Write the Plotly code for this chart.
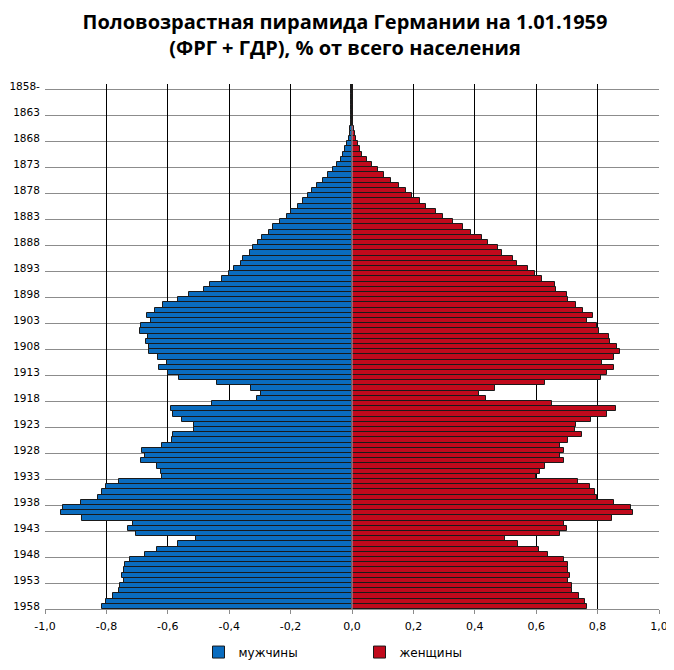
import plotly.graph_objects as go

# Data: share of total population (%), by birth year, Germany (FRG + GDR) 1.01.1959
years = list(range(1858, 1959))

men = [0.002, 0.002, 0.002, 0.002, 0.002, 0.002, 0.002, 0.003, 0.006, 0.008,
       0.011, 0.016, 0.023, 0.028, 0.037, 0.048, 0.062, 0.078, 0.095, 0.114,
       0.130, 0.143, 0.160, 0.176, 0.198, 0.212, 0.235, 0.258, 0.271, 0.293,
       0.307, 0.323, 0.333, 0.355, 0.362, 0.385, 0.401, 0.424, 0.463, 0.483,
       0.530, 0.567, 0.616, 0.642, 0.668, 0.655, 0.688, 0.691, 0.665, 0.672,
       0.662, 0.662, 0.633, 0.603, 0.629, 0.600, 0.564, 0.439, 0.329, 0.297,
       0.310, 0.457, 0.589, 0.584, 0.554, 0.515, 0.515, 0.583, 0.586, 0.618,
       0.684, 0.675, 0.687, 0.635, 0.623, 0.618, 0.760, 0.801, 0.814, 0.827,
       0.884, 0.942, 0.949, 0.879, 0.714, 0.729, 0.704, 0.508, 0.566, 0.636,
       0.675, 0.723, 0.739, 0.742, 0.749, 0.742, 0.755, 0.759, 0.778, 0.801,
       0.815]

women = [0.002, 0.002, 0.002, 0.002, 0.002, 0.002, 0.002, 0.003, 0.006, 0.010,
         0.014, 0.020, 0.027, 0.034, 0.049, 0.065, 0.085, 0.104, 0.127, 0.154,
         0.177, 0.197, 0.222, 0.241, 0.274, 0.295, 0.330, 0.363, 0.386, 0.422,
         0.443, 0.477, 0.489, 0.523, 0.536, 0.574, 0.595, 0.620, 0.660, 0.663,
         0.699, 0.704, 0.728, 0.754, 0.784, 0.766, 0.799, 0.803, 0.836, 0.842,
         0.864, 0.872, 0.855, 0.813, 0.852, 0.829, 0.810, 0.630, 0.467, 0.415,
         0.435, 0.650, 0.859, 0.829, 0.777, 0.730, 0.725, 0.748, 0.705, 0.676,
         0.692, 0.679, 0.689, 0.630, 0.611, 0.598, 0.737, 0.774, 0.793, 0.797,
         0.852, 0.908, 0.914, 0.846, 0.689, 0.699, 0.679, 0.497, 0.542, 0.608,
         0.640, 0.689, 0.702, 0.705, 0.709, 0.705, 0.718, 0.717, 0.738, 0.758,
         0.767]

year_ticks = list(range(1858, 1959, 5))
year_labels = ["1858-"] + [str(y) for y in year_ticks[1:]]

x_ticks = [-1.0, -0.8, -0.6, -0.4, -0.2, 0.0, 0.2, 0.4, 0.6, 0.8, 1.0]
x_labels = ["-1,0", "-0,8", "-0,6", "-0,4", "-0,2", "0,0", "0,2", "0,4", "0,6", "0,8", "1,0"]

fig = go.Figure()

fig.add_trace(go.Bar(y=years, x=[-v for v in men], orientation="h", name="мужчины",
                     marker=dict(color="#0A6CBF", line=dict(color="#1a1a1a", width=1))))
fig.add_trace(go.Bar(y=years, x=women, orientation="h", name="женщины",
                     marker=dict(color="#C10A1C", line=dict(color="#1a1a1a", width=1))))

# light axis line through the middle, drawn over the bars
fig.add_shape(type="line", xref="x", yref="y", x0=0, x1=0, y0=1865.5, y1=1958.5,
              line=dict(color="#9AAFC4", width=1), layer="above")

# the page adds an 8px body margin, so the figure is a bit smaller than the window
fig.update_layout(
    width=666, height=662,
    margin=dict(l=37, r=15, t=76, b=61, autoexpand=False),
    paper_bgcolor="white", plot_bgcolor="white",
    barmode="relative", bargap=0,
    font=dict(family="DejaVu Sans", size=11, color="black"),
    title=dict(text="Половозрастная пирамида Германии на 1.01.1959<br>(ФРГ + ГДР), % от всего населения",
               font=dict(family="Open Sans", size=20, color="black", weight="bold"),
               x=0.506, xref="container", xanchor="center",
               y=0.968, yref="container", yanchor="top", automargin=False),
    showlegend=True,
    legend=dict(orientation="h", x=0.25, xanchor="left", y=-0.082, yanchor="middle",
                entrywidth=116, entrywidthmode="pixels", itemwidth=30,
                font=dict(family="DejaVu Sans", size=12, color="black"),
                traceorder="normal"),
)

fig.update_xaxes(range=[-1, 1], tickvals=x_ticks, ticktext=x_labels,
                 showgrid=True, gridcolor="#000000", gridwidth=1,
                 zeroline=False, showline=True, linecolor="#8c8c8c",
                 ticks="outside", ticklen=4, tickcolor="#8c8c8c",
                 ticklabelstandoff=3,
                 automargin=False, fixedrange=True)

fig.update_yaxes(range=[1958.5, 1857.5], tickvals=year_ticks, ticktext=year_labels,
                 tickfont=dict(size=10.5),
                 showgrid=False, zeroline=False, showline=False,
                 ticks="outside", ticklen=2, tickcolor="rgba(0,0,0,0)",
                 minor=dict(tick0=1858.5, dtick=5, showgrid=True, gridcolor="#8c8c8c", gridwidth=1),
                 automargin=False, fixedrange=True)

fig.write_html("out.html")
